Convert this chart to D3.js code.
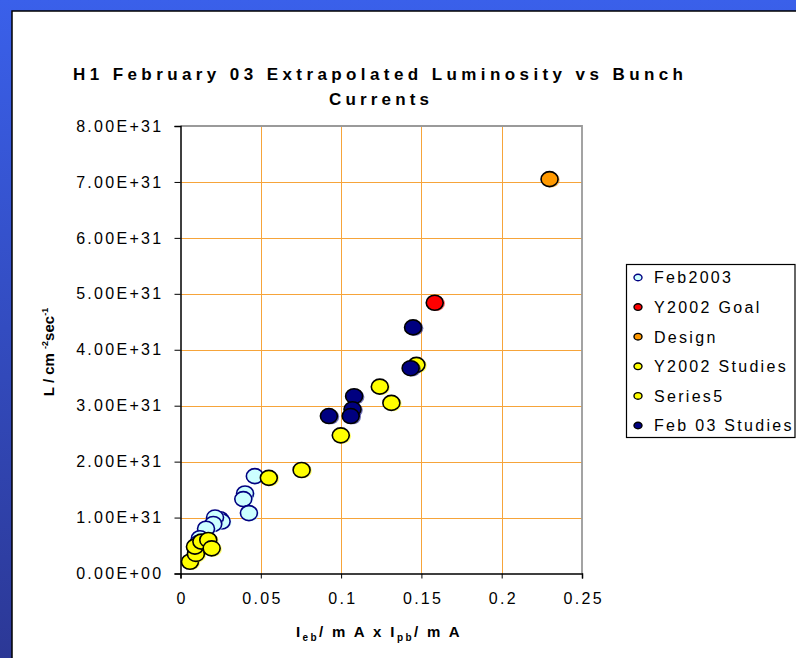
<!DOCTYPE html>
<html>
<head>
<meta charset="utf-8">
<script src="https://cdn.jsdelivr.net/npm/d3@7"></script>
<style>
  body { margin: 0; }
  svg { display: block; font-family: Arial, "Liberation Sans", sans-serif; }
</style>
</head>
<body>
<svg id="chart" width="796" height="658"></svg>
<script>
// ---- data ----
const xTickValues = [0, 0.05, 0.1, 0.15, 0.2, 0.25];
const yTickValues = [0, 1e31, 2e31, 3e31, 4e31, 5e31, 6e31, 7e31, 8e31];

const seriesNames = ["Feb2003", "Y2002 Goal", "Design", "Y2002 Studies", "Series5", "Feb 03 Studies"];

const feb2003X = [0.0463, 0.0402, 0.0391, 0.0426, 0.0246, 0.0256, 0.0215, 0.0204, 0.0159, 0.0121, 0.0110];
const feb2003Y = [1.74e31, 1.43e31, 1.33e31, 1.08e31, 0.97e31, 0.93e31, 1.00e31, 0.885e31, 0.80e31, 0.63e31, 0.54e31];

const goalX = [0.1583];
const goalY = [4.84e31];

const designX = [0.2298];
const designY = [7.05e31];

const studies2002X = [0.1469, 0.1241, 0.1313, 0.0998, 0.0754, 0.0550];
const studies2002Y = [3.73e31, 3.34e31, 3.05e31, 2.47e31, 1.85e31, 1.71e31];

const series5X = [0.0059, 0.0096, 0.0090, 0.0130, 0.0173, 0.0194];
const series5Y = [0.21e31, 0.35e31, 0.48e31, 0.57e31, 0.60e31, 0.45e31];

const studies03X = [0.1448, 0.1433, 0.1081, 0.1071, 0.1060, 0.0924];
const studies03Y = [4.40e31, 3.67e31, 3.17e31, 2.935e31, 2.815e31, 2.815e31];

const seriesFill   = ["#ccffff", "#ff0000", "#ff9900", "#ffff00", "#ffff00", "#000080"];
const seriesStroke = ["#000080", "#000000", "#000000", "#000000", "#000000", "#000000"];

const seriesX = [feb2003X, goalX, designX, studies2002X, series5X, studies03X];
const seriesY = [feb2003Y, goalY, designY, studies2002Y, series5Y, studies03Y];

// ---- layout ----
const W = 796, H = 658;
const plot = { left: 180.5, right: 582, top: 126, bottom: 573.5 };
const tickFont = 16, spacing = "2.3px";

const svg = d3.select("#chart");

// slide background and white panel
const defs = svg.append("defs");
const grad = defs.append("linearGradient").attr("id", "bg").attr("x1", 0).attr("y1", 0).attr("x2", 0).attr("y2", 1);
grad.append("stop").attr("offset", "0%").attr("stop-color", "#3a60ea");
grad.append("stop").attr("offset", "100%").attr("stop-color", "#2c3896");
svg.append("rect").attr("width", W).attr("height", H).attr("fill", "url(#bg)");
svg.append("rect").attr("x", 12).attr("y", 11).attr("width", W).attr("height", H)
  .attr("fill", "#ffffff").attr("stroke", "#000").attr("stroke-width", 1.5);

const x = d3.scaleLinear().domain([0, 0.25]).range([plot.left, plot.right]);
const y = d3.scaleLinear().domain([0, 8e31]).range([plot.bottom, plot.top]);

// gridlines
const grid = svg.append("g").attr("stroke", "#f6a43a").attr("stroke-width", 1);
grid.selectAll("line.h").data(yTickValues.filter(v => v > 0 && v < 8e31)).join("line")
  .attr("x1", plot.left).attr("x2", plot.right)
  .attr("y1", d => Math.round(y(d)) + 0.5).attr("y2", d => Math.round(y(d)) + 0.5);
grid.selectAll("line.v").data(xTickValues.filter(v => v > 0 && v < 0.25)).join("line")
  .attr("y1", plot.top).attr("y2", plot.bottom)
  .attr("x1", d => Math.round(x(d)) + 0.5).attr("x2", d => Math.round(x(d)) + 0.5);

// top and right frame
svg.append("path")
  .attr("d", `M${plot.left},${plot.top}H${plot.right}V${plot.bottom}`)
  .attr("fill", "none").attr("stroke", "#9a9a9a").attr("stroke-width", 1.8);

// axes
const yFmt = v => v === 0 ? "0.00E+00" : (v / 1e31).toFixed(2) + "E+31";
const yAxis = svg.append("g").attr("transform", `translate(${plot.left},0)`)
  .call(d3.axisLeft(y).tickValues(yTickValues).tickFormat(yFmt).tickSize(6).tickPadding(11));
const xAxis = svg.append("g").attr("transform", `translate(0,${plot.bottom})`)
  .call(d3.axisBottom(x).tickValues(xTickValues).tickFormat(v => String(+v.toFixed(2))).tickSize(5).tickPadding(14));
[yAxis, xAxis].forEach(a => {
  a.select(".domain").attr("stroke", "#000").attr("stroke-width", 1.5);
  a.selectAll(".tick line").attr("stroke", "#000").attr("stroke-width", 1);
  a.selectAll("text").attr("font-size", tickFont).attr("fill", "#000")
    .attr("font-family", "Arial, 'Liberation Sans', sans-serif")
    .style("letter-spacing", spacing);
});
xAxis.selectAll(".tick text").attr("dx", "1.2px");

// markers
const rx = 8.5, ry = 7.5;
seriesNames.forEach((name, i) => {
  const pts = seriesX[i].map((v, k) => [v, seriesY[i][k]]);
  const g = svg.append("g").attr("class", "series");
  pts.forEach(p => {
    const cx = x(p[0]), cy = y(p[1]);
    g.append("ellipse").attr("cx", cx + 1.8).attr("cy", cy + 0.8).attr("rx", rx).attr("ry", ry)
      .attr("fill", seriesFill[i]).attr("opacity", 0.55);
    g.append("ellipse").attr("cx", cx).attr("cy", cy).attr("rx", rx).attr("ry", ry)
      .attr("fill", seriesFill[i]).attr("stroke", seriesStroke[i]).attr("stroke-width", 1.6);
  });
});

// title
const title = svg.append("g").attr("font-weight", "bold").attr("font-size", 17)
  .attr("text-anchor", "middle").attr("fill", "#000");
title.append("text").attr("x", 378).attr("y", 80)
  .attr("textLength", 610).attr("lengthAdjust", "spacing")
  .text("H1 February 03 Extrapolated Luminosity vs Bunch");
title.append("text").attr("x", 379).attr("y", 105)
  .attr("textLength", 100).attr("lengthAdjust", "spacing")
  .text("Currents");

// x axis title
const xt = svg.append("text").attr("x", 379).attr("y", 637).attr("text-anchor", "middle")
  .attr("font-weight", "bold").attr("font-size", 15).style("letter-spacing", "2.4px");
xt.append("tspan").text("I");
xt.append("tspan").attr("font-size", 10).attr("dy", 4).text("eb");
xt.append("tspan").attr("dy", -4).text("/ m A  x  I");
xt.append("tspan").attr("font-size", 10).attr("dy", 4).text("pb");
xt.append("tspan").attr("dy", -4).text("/ m A");

// y axis title
const yt = svg.append("text").attr("transform", "translate(54,352) rotate(-90)")
  .attr("text-anchor", "middle").attr("font-weight", "bold").attr("font-size", 15);
yt.append("tspan").text("L / cm ");
yt.append("tspan").attr("font-size", 9).attr("dy", -6).text("-2");
yt.append("tspan").attr("dy", 6).text("sec");
yt.append("tspan").attr("font-size", 9).attr("dy", -6).text("-1");

// legend
const lg = svg.append("g");
lg.append("rect").attr("x", 626.5).attr("y", 264.5).attr("width", 168.5).attr("height", 173)
  .attr("fill", "#fff").attr("stroke", "#000").attr("stroke-width", 1.2);
seriesNames.forEach((name, i) => {
  const cy = 277.5 + i * 29.6;
  lg.append("ellipse").attr("cx", 638).attr("cy", cy).attr("rx", 4).attr("ry", 3.3)
    .attr("fill", seriesFill[i]).attr("stroke", seriesStroke[i]).attr("stroke-width", 1.4);
  lg.append("text").attr("x", 654).attr("y", cy + 5.8).attr("font-size", 16)
    .style("letter-spacing", spacing).text(name);
});
</script>
</body>
</html>
